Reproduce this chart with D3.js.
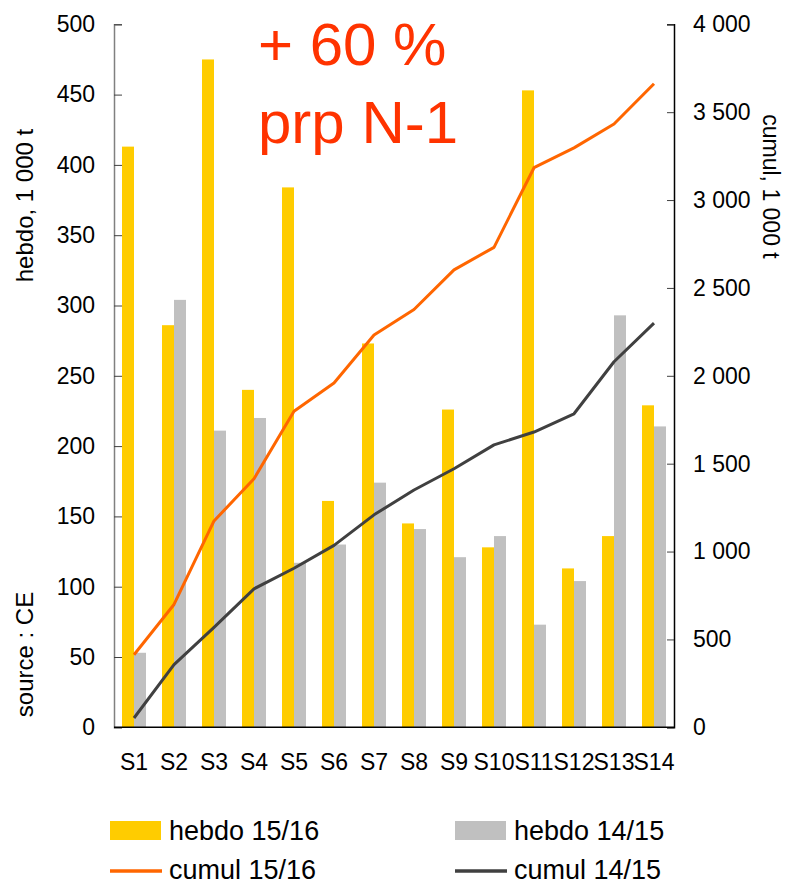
<!DOCTYPE html>
<html>
<head>
<meta charset="utf-8">
<script src="https://cdn.jsdelivr.net/npm/d3@7"></script>
<style>
  html, body { margin: 0; padding: 0; background: #fff; }
  svg { display: block; font-family: "Liberation Sans", Arial, sans-serif; }
</style>
</head>
<body>
<div id="chart"></div>
<script>
// ---- data ----
const categories = ["S1","S2","S3","S4","S5","S6","S7","S8","S9","S10","S11","S12","S13","S14"];
const hebdo1516 = [413, 286, 475, 240, 384, 161, 273, 145, 226, 128, 453, 113, 136, 229];
const hebdo1415 = [53, 304, 211, 220, 117, 130, 174, 141, 121, 136, 73, 104, 293, 214];
const cumul1516 = [413, 699, 1174, 1414, 1798, 1959, 2232, 2377, 2603, 2731, 3184, 3297, 3433, 3662];
const cumul1415 = [53, 357, 568, 788, 905, 1035, 1209, 1350, 1471, 1607, 1680, 1784, 2080, 2300];
const leftTicks = [0, 50, 100, 150, 200, 250, 300, 350, 400, 450, 500];
const rightTicks = [0, 500, 1000, 1500, 2000, 2500, 3000, 3500, 4000];
const seriesNames = ["hebdo 15/16", "hebdo 14/15", "cumul 15/16", "cumul 14/15"];
const titleLines = ["+ 60 %", "prp N-1"];

const W = 787, H = 884;
const colYellow = "#FFCC00", colGrey = "#C0C0C0", colOrange = "#FF6600", colDark = "#404040", colTitle = "#FF3300";

const svg = d3.select("#chart").append("svg").attr("width", W).attr("height", H);

const plot = { left: 114, right: 674, top: 24.3, bottom: 727.3 };

const x = d3.scaleBand().domain(categories).range([plot.left, plot.right])
  .paddingInner(0.4).paddingOuter(0.2);
const xSub = d3.scaleBand().domain(["a", "b"]).range([0, x.bandwidth()]);
const yL = d3.scaleLinear().domain([0, 500]).range([plot.bottom, plot.top]);
const yR = d3.scaleLinear().domain([0, 4000]).range([plot.bottom, plot.top]);
const cx = d => x(d) + x.bandwidth() / 2;

// bars
const g = svg.append("g");
g.selectAll("rect.y").data(categories).join("rect")
  .attr("x", d => x(d) + xSub("a"))
  .attr("width", xSub.bandwidth())
  .attr("y", (d, i) => yL(hebdo1516[i]))
  .attr("height", (d, i) => yL(0) - yL(hebdo1516[i]))
  .attr("fill", colYellow);
g.selectAll("rect.g").data(categories).join("rect")
  .attr("x", d => x(d) + xSub("b"))
  .attr("width", xSub.bandwidth())
  .attr("y", (d, i) => yL(hebdo1415[i]))
  .attr("height", (d, i) => yL(0) - yL(hebdo1415[i]))
  .attr("fill", colGrey);

// lines
const line = arr => d3.line().x((d, i) => cx(categories[i])).y(d => yR(d))(arr);
svg.append("path").attr("d", line(cumul1516)).attr("fill", "none")
  .attr("stroke", colOrange).attr("stroke-width", 3).attr("stroke-linejoin", "round");
svg.append("path").attr("d", line(cumul1415)).attr("fill", "none")
  .attr("stroke", colDark).attr("stroke-width", 3).attr("stroke-linejoin", "round");

// left axis
const axL = svg.append("g").attr("transform", `translate(${plot.left},0)`)
  .call(d3.axisRight(yL).tickValues(leftTicks).tickSize(8).tickFormat(d3.format("d")));
axL.select(".domain").attr("stroke", "#808080").attr("stroke-width", 1.5);
axL.selectAll(".tick line").attr("stroke", "#404040");
axL.selectAll(".tick text").attr("x", -19).attr("text-anchor", "end")
  .attr("font-size", 23).attr("fill", "#000").attr("font-family", "Liberation Sans, Arial, sans-serif");

// right axis
const fmtSpace = d => d3.format(",")(d).replace(/,/g, " ");
const axR = svg.append("g").attr("transform", `translate(${plot.right},0)`)
  .call(d3.axisLeft(yR).tickValues(rightTicks).tickSize(7).tickFormat(fmtSpace));
axR.select(".domain").attr("stroke", "#000").attr("stroke-width", 1.5);
axR.selectAll(".tick line").attr("stroke", "#404040");
axR.selectAll(".tick text").attr("x", 19).attr("text-anchor", "start")
  .attr("font-size", 23).attr("fill", "#000").attr("font-family", "Liberation Sans, Arial, sans-serif");

// bottom axis
const axB = svg.append("g").attr("transform", `translate(0,${plot.bottom})`)
  .call(d3.axisBottom(x).tickSize(0).tickPadding(0));
axB.select(".domain").attr("stroke", "#000").attr("stroke-width", 1.5)
  .attr("d", `M${plot.left},0H${plot.right}`);
axB.selectAll(".tick text").attr("y", 43).attr("dy", 0)
  .attr("font-size", 23).attr("fill", "#000").attr("font-family", "Liberation Sans, Arial, sans-serif");

// axis titles
svg.append("text").attr("transform", "translate(33,205.5) rotate(-90)")
  .attr("text-anchor", "middle").attr("font-size", 24).attr("fill", "#000")
  .text("hebdo, 1 000 t");
svg.append("text").attr("transform", "translate(33,654.5) rotate(-90)")
  .attr("text-anchor", "middle").attr("font-size", 24).attr("fill", "#000")
  .text("source : CE");
svg.append("text").attr("transform", "translate(763,186.5) rotate(90)")
  .attr("text-anchor", "middle").attr("font-size", 23).attr("fill", "#000")
  .text("cumul, 1 000 t");

// big annotation
svg.append("text").attr("x", 258).attr("y", 65).attr("font-size", 60).attr("fill", colTitle).text(titleLines[0]);
svg.append("text").attr("x", 258).attr("y", 143).attr("font-size", 60).attr("fill", colTitle).text(titleLines[1]);

// legend
const leg = [
  { name: seriesNames[0], type: "rect", color: colYellow, x: 110, y: 840 },
  { name: seriesNames[1], type: "rect", color: colGrey, x: 455, y: 840 },
  { name: seriesNames[2], type: "line", color: colOrange, x: 110, y: 879 },
  { name: seriesNames[3], type: "line", color: colDark, x: 455, y: 879 }
];
const lg = svg.append("g").selectAll("g").data(leg).join("g");
lg.filter(d => d.type === "rect").append("rect")
  .attr("x", d => d.x).attr("y", d => d.y - 19).attr("width", 51).attr("height", 19)
  .attr("fill", d => d.color);
lg.filter(d => d.type === "line").append("line")
  .attr("x1", d => d.x).attr("x2", d => d.x + 52)
  .attr("y1", d => d.y - 8).attr("y2", d => d.y - 8)
  .attr("stroke", d => d.color).attr("stroke-width", 3.5);
lg.append("text").attr("x", d => d.x + 59).attr("y", d => d.y)
  .attr("font-size", 27).attr("fill", "#000").text(d => d.name);
</script>
</body>
</html>
